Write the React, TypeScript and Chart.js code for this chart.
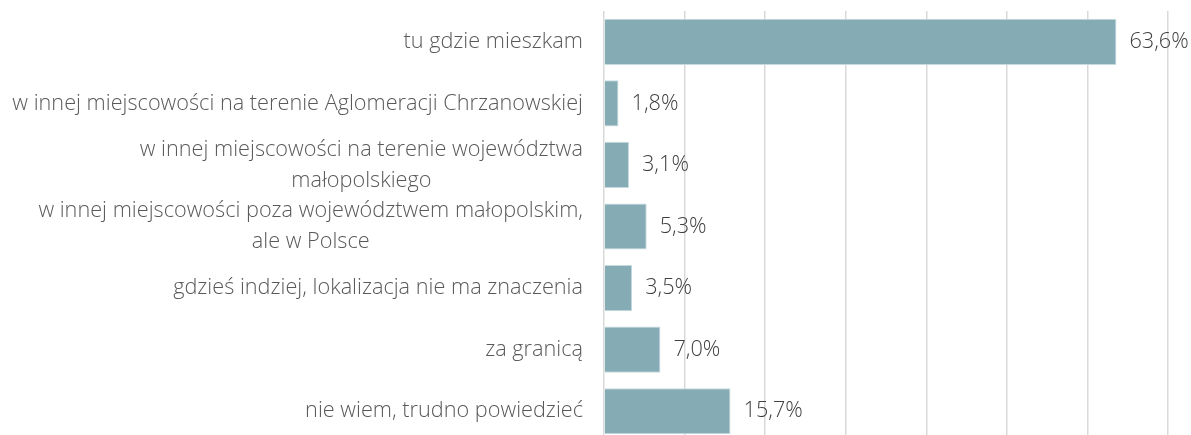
import React, { useEffect, useRef } from "react";
import { Chart, registerables } from "chart.js";

Chart.register(...registerables);

const categories: string[][] = [
  ["tu gdzie mieszkam"],
  ["w innej miejscowości na terenie Aglomeracji Chrzanowskiej"],
  ["w innej miejscowości na terenie województwa", "małopolskiego"],
  ["w innej miejscowości poza województwem małopolskim,", "ale w Polsce"],
  ["gdzieś indziej, lokalizacja nie ma znaczenia"],
  ["za granicą"],
  ["nie wiem, trudno powiedzieć"],
];
const values = [63.6, 1.8, 3.1, 5.3, 3.5, 7.0, 15.7];
const valueLabels = ["63,6%", "1,8%", "3,1%", "5,3%", "3,5%", "7,0%", "15,7%"];
const xMin = 0;
const xMax = 70;
const xStep = 10;

const FONT_FAMILY = "'Open Sans', sans-serif";
const FONT_SIZE = 21.7;
const TEXT_COLOR = "#595959";
const LINE_HEIGHT = 31;

const labelPlugin = {
  id: "customLabels",
  afterDraw(chart: any) {
    const ctx = chart.ctx;
    const yScale = chart.scales.y;
    const xScale = chart.scales.x;
    const area = chart.chartArea;
    ctx.save();
    ctx.font = `300 ${FONT_SIZE}px ${FONT_FAMILY}`;
    ctx.fillStyle = TEXT_COLOR;
    ctx.textBaseline = "middle";
    categories.forEach((lines, i) => {
      const y = yScale.getPixelForValue(i);
      const right = area.left - 21;
      const maxW = Math.max(...lines.map((l) => ctx.measureText(l).width));
      const cx = right - maxW / 2;
      ctx.textAlign = "center";
      lines.forEach((line, j) => {
        const ly = y + (j - (lines.length - 1) / 2) * LINE_HEIGHT;
        ctx.fillText(line, cx, ly);
      });
    });
    ctx.textAlign = "left";
    ctx.fillStyle = "#404040";
    values.forEach((v, i) => {
      const y = yScale.getPixelForValue(i);
      const x = xScale.getPixelForValue(v) + 13;
      ctx.fillText(valueLabels[i], x, y);
    });
    ctx.restore();
  },
};

export default function App() {
  const canvasRef = useRef<HTMLCanvasElement | null>(null);
  useEffect(() => {
    if (!canvasRef.current) return;
    const chart = new Chart(canvasRef.current, {
      type: "bar",
      data: {
        labels: categories.map((c) => c.join(" ")),
        datasets: [
          {
            data: values,
            backgroundColor: "#85abb5",
            borderColor: "#c7dadf",
            borderWidth: 1,
            barPercentage: 0.75,
            categoryPercentage: 1,
          },
        ],
      },
      options: {
        indexAxis: "y",
        animation: false,
        responsive: false,
        maintainAspectRatio: false,
        layout: { padding: { left: 0, right: 23, top: 11, bottom: 0 } },
        plugins: {
          legend: { display: false },
          tooltip: { enabled: false },
        },
        scales: {
          x: {
            min: xMin,
            max: xMax,
            ticks: { display: false, stepSize: xStep },
            grid: { color: "#d9d9d9", lineWidth: 1.5, drawTicks: false },
            border: { display: false },
            afterFit: (s: any) => {
              s.height = 0;
            },
          },
          y: {
            ticks: { display: false },
            grid: { display: false },
            border: { display: false },
            afterFit: (s: any) => {
              s.width = 604;
            },
          },
        },
      },
      plugins: [labelPlugin],
    });
    return () => chart.destroy();
  }, []);
  return (
    <div style={{ position: "absolute", left: 0, top: 0, width: 1191, height: 442 }}>
      <canvas ref={canvasRef} width={1191} height={442} style={{ display: "block" }} />
    </div>
  );
}
